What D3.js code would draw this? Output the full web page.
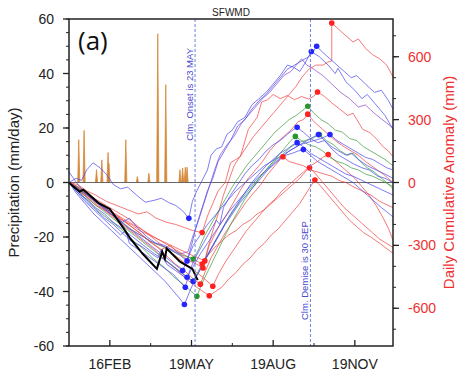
<!DOCTYPE html>
<html>
<head>
<meta charset="utf-8">
<script src="https://cdn.jsdelivr.net/npm/d3@7"></script>
<style>
  body { margin: 0; background: #fff; }
  text { font-family: "Liberation Sans", Arial, sans-serif; }
</style>
</head>
<body>
<svg id="chart" width="459" height="373"></svg>
<script>
// daily precipitation of the current year (mm/day), left axis
const precipDays = [11, 17, 31, 37, 44, 45, 64, 77, 90, 100, 109, 125, 128, 131, 133]
const precipVals = [15.7, 19.1, 4.7, 8.3, 11.0, 7.0, 15.7, 2.2, 3.4, 54.6, 35.9, 4.7, 5.3, 5.6, 5.6]

// x axis (day of year)
const xTickDays = [46, 138, 230, 322]
const xTickLabels = ["16FEB", "19MAY", "19AUG", "19NOV"]
const xMinorDays = [92, 184, 276]
const onsetDay = 142, demiseDay = 272

// daily cumulative anomaly (mm) per year, [day, mm], right axis
const current = [[0,0],[1,-5],[12,-44],[16,-34],[20,-48],[33,-97],[46,-126],[60,-209],[69,-267],[83,-340],[99,-412],[105,-330],[108,-364],[110,-315],[125,-378],[139,-412],[145,-466]]

const blue1 = [[0,0],[8,20],[14,10],[20,60],[27,94],[35,70],[42,40],[50,-10],[58,-30],[66,-22],[76,-60],[86,-94],[96,-85],[104,-75],[112,-95],[120,-109],[128,-135],[135,-171],[139,-90],[144,-40],[150,10],[156,60],[160,130],[166,160],[172,170],[178,230],[184,250],[190,290],[198,310],[206,370],[214,400],[222,430],[230,470],[238,510],[246,560],[253,550],[260,530],[266,570],[273,625],[282,600],[292,560],[300,520],[303,545],[312,480],[322,440],[330,400],[336,420],[346,370],[356,320],[365,253]]
const blue2 = [[0,50],[5,20],[12,-20],[20,-50],[30,-90],[40,-120],[50,-150],[60,-190],[68,-170],[78,-220],[88,-260],[98,-290],[108,-300],[118,-330],[126,-350],[133,-374],[138,-300],[144,-200],[150,-120],[156,-40],[162,20],[168,100],[175,150],[182,200],[190,270],[198,300],[206,350],[214,390],[222,420],[230,460],[238,500],[246,540],[254,560],[262,580],[270,600],[276,630],[279,650],[286,620],[294,590],[302,560],[310,530],[318,500],[324,510],[334,470],[344,430],[352,440],[360,390],[365,350]]
const blue3 = [[0,0],[8,-40],[18,-90],[28,-130],[38,-170],[48,-210],[58,-250],[64,-230],[68,-290],[78,-320],[88,-350],[98,-380],[108,-410],[118,-440],[124,-470],[131,-500],[136,-420],[142,-360],[150,-300],[158,-240],[166,-180],[170,-200],[174,-120],[182,-60],[190,-10],[198,40],[206,80],[214,110],[222,150],[230,180],[238,200],[246,230],[252,250],[257,263],[264,240],[272,210],[280,190],[288,200],[296,160],[304,130],[312,110],[320,90],[330,70],[338,60],[348,30],[356,20],[365,0]]
const blue4 = [[0,0],[10,-40],[20,-90],[30,-130],[40,-170],[50,-200],[60,-240],[70,-280],[80,-300],[90,-330],[100,-360],[104,-320],[110,-390],[120,-420],[130,-450],[140,-471],[146,-430],[152,-380],[160,-320],[168,-260],[176,-200],[184,-150],[192,-100],[200,-60],[208,-20],[216,20],[224,60],[232,90],[240,120],[248,150],[256,170],[264,190],[272,210],[281,229],[288,200],[296,170],[304,150],[312,130],[318,140],[326,110],[336,80],[346,60],[356,40],[365,20]]
const blue5 = [[0,0],[10,-50],[20,-80],[30,-120],[40,-150],[50,-190],[60,-220],[72,-260],[84,-300],[96,-340],[108,-370],[120,-410],[133,-452],[140,-400],[148,-340],[156,-290],[164,-240],[172,-190],[180,-140],[188,-100],[196,-60],[204,-20],[212,20],[220,50],[228,80],[236,110],[244,140],[252,160],[260,180],[268,190],[276,200],[284,210],[294,229],[302,200],[310,180],[318,160],[326,140],[334,120],[342,110],[350,90],[358,70],[365,60]]
const blue6 = [[0,0],[8,-50],[18,-100],[28,-150],[38,-190],[48,-230],[58,-270],[68,-310],[78,-350],[88,-390],[98,-430],[108,-470],[116,-510],[124,-550],[130,-582],[136,-520],[142,-460],[150,-400],[158,-330],[166,-270],[174,-210],[182,-150],[190,-100],[198,-50],[206,0],[214,40],[222,80],[230,110],[238,140],[246,160],[252,180],[257,190],[264,170],[272,140],[280,120],[288,100],[296,80],[304,60],[312,40],[320,30],[330,10],[340,-10],[350,-30],[365,-60]]
const blue7 = [[0,0],[10,-30],[20,-60],[32,-100],[44,-140],[56,-180],[68,-220],[80,-260],[92,-300],[104,-340],[116,-380],[128,-420],[134,-360],[140,-300],[148,-250],[156,-200],[164,-160],[172,-120],[180,-80],[188,-40],[196,-10],[204,20],[212,50],[220,80],[228,100],[236,120],[244,130],[252,140],[258,150],[264,157],[272,130],[280,100],[288,80],[296,60],[304,40],[312,20],[320,0],[328,-30],[336,-60],[344,-90],[352,-120],[358,-140],[365,-164]]
const purple1 = [[0,0],[10,-30],[20,-60],[32,-100],[44,-140],[56,-180],[68,-220],[80,-250],[92,-280],[104,-300],[116,-320],[126,-340],[134,-330],[140,-250],[146,-180],[152,-100],[158,-20],[164,60],[170,130],[178,180],[186,220],[194,280],[202,320],[210,360],[218,400],[226,430],[234,470],[242,510],[250,530],[256,560],[262,590],[268,560],[276,540],[286,510],[296,470],[306,430],[316,400],[326,360],[334,370],[344,330],[356,290],[365,260]]

const red1 = [[0,0],[10,-20],[22,-60],[34,-100],[46,-130],[58,-170],[70,-210],[82,-250],[94,-290],[104,-320],[114,-300],[124,-340],[134,-370],[144,-390],[151,-408],[156,-320],[162,-230],[168,-150],[174,-60],[180,10],[186,80],[192,120],[200,170],[208,220],[216,260],[224,300],[232,340],[240,380],[248,420],[256,460],[262,500],[270,540],[278,560],[286,560],[292,575],[296,580],[296,761],[304,730],[312,700],[320,670],[326,685],[334,640],[342,610],[350,590],[358,560],[365,504]]
const red2 = [[0,0],[10,-10],[20,-40],[30,-60],[42,-90],[54,-110],[66,-130],[78,-150],[88,-140],[98,-170],[110,-190],[120,-200],[130,-215],[140,-230],[150,-239],[156,-160],[162,-100],[168,-40],[176,0],[182,94],[193,123],[202,253],[212,311],[217,384],[224,395],[230,420],[238,400],[246,415],[254,395],[262,410],[270,398],[276,412],[280,432],[288,410],[296,380],[305,350],[314,320],[320,330],[331,253],[339,238],[346,210],[354,170],[360,150],[365,123]]
const red3 = [[0,0],[10,-40],[20,-70],[30,-110],[40,-130],[50,-160],[60,-180],[70,-200],[80,-230],[90,-250],[100,-270],[110,-290],[120,-310],[130,-330],[140,-350],[153,-374],[158,-300],[164,-250],[170,-200],[178,-150],[186,-90],[194,-30],[202,20],[210,60],[218,100],[226,150],[234,190],[242,220],[250,250],[258,290],[264,300],[269,326],[276,290],[284,260],[292,230],[300,200],[310,170],[318,150],[326,130],[334,100],[344,70],[354,40],[365,0]]
const red4 = [[0,0],[10,-30],[20,-60],[30,-90],[40,-120],[50,-150],[60,-180],[70,-210],[80,-240],[90,-280],[100,-310],[110,-350],[120,-390],[130,-420],[140,-460],[148,-485],[154,-420],[160,-360],[168,-300],[176,-240],[184,-190],[192,-140],[200,-90],[208,-50],[216,-10],[224,40],[232,80],[238,110],[241,123],[248,100],[256,90],[264,80],[272,60],[280,50],[288,40],[296,30],[304,10],[312,0],[320,-20],[330,-40],[340,-60],[350,-90],[365,-120]]
const red5 = [[0,0],[10,-20],[20,-50],[30,-80],[42,-110],[54,-140],[66,-170],[78,-210],[90,-250],[102,-290],[114,-330],[126,-370],[138,-410],[150,-450],[162,-495],[168,-440],[176,-380],[184,-330],[192,-280],[200,-230],[208,-190],[216,-150],[224,-110],[232,-80],[240,-40],[248,-10],[256,20],[264,50],[272,80],[280,100],[286,120],[292,133],[298,110],[306,80],[314,50],[322,20],[330,-20],[338,-60],[346,-110],[354,-170],[360,-220],[365,-275]]
const red6 = [[0,0],[12,-30],[24,-70],[36,-110],[48,-140],[60,-170],[72,-200],[84,-230],[96,-260],[108,-290],[120,-320],[132,-350],[142,-370],[150,-389],[156,-350],[164,-310],[172,-280],[180,-250],[188,-230],[196,-200],[204,-180],[212,-150],[220,-130],[228,-100],[236,-70],[244,-40],[252,-10],[260,20],[266,50],[271,70],[278,40],[286,0],[294,-40],[302,-80],[310,-120],[318,-150],[326,-180],[334,-210],[342,-240],[350,-270],[365,-310]]
const red7 = [[0,0],[12,-40],[24,-80],[36,-120],[48,-160],[60,-200],[72,-240],[84,-280],[96,-320],[108,-370],[120,-410],[132,-460],[144,-500],[158,-540],[165,-520],[172,-500],[180,-460],[188,-430],[196,-390],[204,-360],[212,-320],[220,-290],[228,-250],[236,-220],[244,-180],[252,-140],[260,-100],[266,-60],[272,-20],[277,12],[284,-20],[292,-60],[300,-100],[308,-140],[316,-180],[324,-210],[332,-240],[340,-260],[350,-290],[365,-338]]

const green1 = [[0,0],[12,-30],[24,-70],[36,-110],[48,-150],[60,-190],[72,-230],[84,-260],[96,-290],[108,-310],[118,-330],[130,-350],[140,-365],[146,-320],[152,-260],[160,-200],[168,-140],[176,-80],[184,-20],[192,30],[200,80],[208,120],[216,160],[224,200],[232,240],[240,270],[248,300],[256,320],[262,340],[269,364],[276,330],[284,300],[292,280],[300,250],[308,240],[316,210],[324,200],[332,170],[340,150],[348,130],[356,110],[365,80]]
const green2 = [[0,0],[10,-30],[22,-80],[34,-120],[46,-160],[58,-200],[70,-240],[82,-280],[94,-320],[106,-360],[118,-400],[130,-440],[140,-471],[146,-420],[154,-360],[162,-300],[170,-240],[178,-180],[186,-130],[194,-80],[202,-40],[210,0],[218,40],[226,80],[234,110],[242,140],[250,170],[258,190],[266,200],[274,210],[282,229],[290,200],[298,180],[306,150],[314,130],[320,140],[328,100],[336,70],[344,50],[352,20],[358,0],[365,-30]]
const green3 = [[0,0],[10,-40],[22,-90],[34,-140],[46,-180],[58,-220],[70,-270],[82,-310],[94,-360],[106,-400],[118,-450],[130,-490],[138,-520],[144,-543],[150,-480],[158,-410],[166,-340],[174,-270],[182,-200],[190,-140],[198,-80],[206,-30],[214,20],[222,60],[230,100],[238,140],[246,180],[250,200],[255,220],[262,200],[270,180],[278,170],[286,150],[294,120],[302,100],[310,90],[318,70],[326,60],[334,40],[342,30],[352,10],[365,-20]]

var colors = {
  blue:   { line: "#4646f0", dot: "#2424ff" },
  red:    { line: "#f04040", dot: "#ff2020" },
  green:  { line: "#3a9a3a", dot: "#2a962a" },
  purple: { line: "#8a44c8", dot: null }
}

var series = [
  { pts: red7, kind: "red" }, { pts: red6, kind: "red" }, { pts: red5, kind: "red" },
  { pts: red4, kind: "red" }, { pts: red3, kind: "red" }, { pts: red2, kind: "red" },
  { pts: red1, kind: "red" },
  { pts: green3, kind: "green" }, { pts: green2, kind: "green" }, { pts: green1, kind: "green" },
  { pts: blue7, kind: "blue" }, { pts: blue6, kind: "blue" }, { pts: blue5, kind: "blue" },
  { pts: blue4, kind: "blue" }, { pts: blue3, kind: "blue" },
  { pts: purple1, kind: "purple" },
  { pts: blue2, kind: "blue" }, { pts: blue1, kind: "blue" }
]

var margin = { top: 19, right: 66, bottom: 27, left: 69 }
var svg = d3.select("#chart"),
  width = +svg.attr("width"),
  height = +svg.attr("height")

var x0 = margin.left, x1 = width - margin.right,
  y0 = margin.top, y1 = height - margin.bottom

var x = d3.scaleLinear().domain([0, 365]).range([x0, x1])
var yL = d3.scaleLinear().domain([-60, 60]).range([y1, y0])
var yR = d3.scaleLinear().domain([-780, 780]).range([y1, y0])

svg.append("rect").attr("width", width).attr("height", height).attr("fill", "#fff")

var plot = svg.append("g")

// precipitation spikes
var spikePts = [[0, 0]]
precipDays.forEach(function (d, i) {
  spikePts.push([d - 1.2, 0], [d, precipVals[i]], [d + 1.2, 0])
})
spikePts.push([136, 0])

plot.append("path")
  .datum(spikePts)
  .attr("fill", "#d4893a")
  .attr("stroke", "#d4893a")
  .attr("stroke-width", 0.8)
  .attr("d", d3.area()
    .x(function (d) { return x(d[0]) })
    .y0(yL(0))
    .y1(function (d) { return yL(d[1]) }))

// zero line
plot.append("line")
  .attr("x1", x0).attr("x2", x1)
  .attr("y1", yL(0)).attr("y2", yL(0))
  .attr("stroke", "#666").attr("stroke-width", 1)

var line = d3.line()
  .x(function (d) { return x(d[0]) })
  .y(function (d) { return yR(d[1]) })

plot.selectAll(".yr")
  .data(series)
  .enter()
  .append("path")
  .attr("class", "yr")
  .attr("fill", "none")
  .attr("stroke", function (d) { return colors[d.kind].line })
  .attr("stroke-opacity", 0.7)
  .attr("stroke-width", 1)
  .attr("d", function (d) { return line(d.pts) })

plot.append("path")
  .attr("fill", "none")
  .attr("stroke", "#000")
  .attr("stroke-width", 2)
  .attr("d", line(current))

// onset (minimum before day 200) and demise (maximum after) markers
var dots = []
series.forEach(function (s) {
  if (!colors[s.kind].dot) return
  var early = s.pts.filter(function (p) { return p[0] < 200 })
  var late = s.pts.filter(function (p) { return p[0] >= 200 })
  dots.push({ p: d3.least(early, function (p) { return p[1] }), c: colors[s.kind].dot })
  dots.push({ p: d3.greatest(late, function (p) { return p[1] }), c: colors[s.kind].dot })
})

plot.selectAll(".dot")
  .data(dots)
  .enter()
  .append("circle")
  .attr("class", "dot")
  .attr("cx", function (d) { return x(d.p[0]) })
  .attr("cy", function (d) { return yR(d.p[1]) })
  .attr("r", 2.8)
  .attr("fill", function (d) { return d.c })

// climatological onset / demise
;[onsetDay, demiseDay].forEach(function (d) {
  plot.append("line")
    .attr("x1", x(d)).attr("x2", x(d))
    .attr("y1", y0).attr("y2", y1)
    .attr("stroke", "#7080e0").attr("stroke-width", 1)
    .attr("stroke-dasharray", "3,2")
})

plot.append("text")
  .attr("transform", "translate(" + (x(onsetDay) - 2) + "," + 48 + ") rotate(-90)")
  .attr("text-anchor", "end")
  .attr("font-size", 9.5)
  .attr("fill", "#4a4ad0")
  .text("Clm. Onset is 23 MAY")

plot.append("text")
  .attr("transform", "translate(" + (x(demiseDay) - 2) + "," + 320 + ") rotate(-90)")
  .attr("text-anchor", "start")
  .attr("font-size", 9.5)
  .attr("fill", "#4a4ad0")
  .text("Clm. Demise is 30 SEP")

// frame
svg.append("rect")
  .attr("x", x0).attr("y", y0)
  .attr("width", x1 - x0).attr("height", y1 - y0)
  .attr("fill", "none").attr("stroke", "#222").attr("stroke-width", 1.5)

// left axis
var left = svg.append("g")
left.selectAll(".mn").data(d3.range(-60, 61, 5)).enter().append("line")
  .attr("x1", x0 - 3).attr("x2", x0)
  .attr("y1", function (d) { return yL(d) }).attr("y2", function (d) { return yL(d) })
  .attr("stroke", "#222")
left.selectAll(".mj").data(d3.range(-60, 61, 20)).enter().append("line")
  .attr("x1", x0 - 6).attr("x2", x0)
  .attr("y1", function (d) { return yL(d) }).attr("y2", function (d) { return yL(d) })
  .attr("stroke", "#222").attr("stroke-width", 1.3)
left.selectAll(".lb").data(d3.range(-60, 61, 20)).enter().append("text")
  .attr("x", x0 - 15).attr("y", function (d) { return yL(d) + 5 })
  .attr("text-anchor", "end").attr("font-size", 14).attr("fill", "#222")
  .text(function (d) { return d })

// right axis
var right = svg.append("g")
right.selectAll(".mn").data(d3.range(-700, 701, 100)).enter().append("line")
  .attr("x1", x1).attr("x2", x1 + 3)
  .attr("y1", function (d) { return yR(d) }).attr("y2", function (d) { return yR(d) })
  .attr("stroke", "#222")
right.selectAll(".mj").data(d3.range(-600, 601, 300)).enter().append("line")
  .attr("x1", x1).attr("x2", x1 + 6)
  .attr("y1", function (d) { return yR(d) }).attr("y2", function (d) { return yR(d) })
  .attr("stroke", "#222").attr("stroke-width", 1.3)
right.selectAll(".lb").data(d3.range(-600, 601, 300)).enter().append("text")
  .attr("x", x1 + 15).attr("y", function (d) { return yR(d) + 5 })
  .attr("text-anchor", "start").attr("font-size", 14).attr("fill", "#f03030")
  .text(function (d) { return d })

// bottom axis (ticks point inward)
var bottom = svg.append("g")
bottom.selectAll(".mn").data(xMinorDays).enter().append("line")
  .attr("x1", function (d) { return x(d) }).attr("x2", function (d) { return x(d) })
  .attr("y1", y1).attr("y2", y1 - 3)
  .attr("stroke", "#222")
bottom.selectAll(".mj").data(xTickDays).enter().append("line")
  .attr("x1", function (d) { return x(d) }).attr("x2", function (d) { return x(d) })
  .attr("y1", y1).attr("y2", y1 - 6)
  .attr("stroke", "#222").attr("stroke-width", 1.3)
bottom.selectAll(".lb").data(xTickDays).enter().append("text")
  .attr("x", function (d) { return x(d) }).attr("y", y1 + 23)
  .attr("text-anchor", "middle").attr("font-size", 14).attr("fill", "#222")
  .text(function (d, i) { return xTickLabels[i] })

// titles
svg.append("text")
  .attr("x", (x0 + x1) / 2).attr("y", 16)
  .attr("text-anchor", "middle").attr("font-size", 10).attr("fill", "#222")
  .text("SFWMD")

svg.append("text")
  .attr("x", 78).attr("y", 50)
  .attr("font-size", 26).attr("fill", "#111")
  .style("font-family", "'Open Sans', sans-serif")
  .text("(a)")

svg.append("text")
  .attr("transform", "translate(19," + yL(0) + ") rotate(-90)")
  .attr("text-anchor", "middle").attr("font-size", 15).attr("fill", "#222")
  .text("Precipitation (mm/day)")

svg.append("text")
  .attr("transform", "translate(454," + yL(0) + ") rotate(-90)")
  .attr("text-anchor", "middle").attr("font-size", 15).attr("fill", "#f03030")
  .text("Daily Cumulative Anomaly (mm)")
</script>
</body>
</html>
